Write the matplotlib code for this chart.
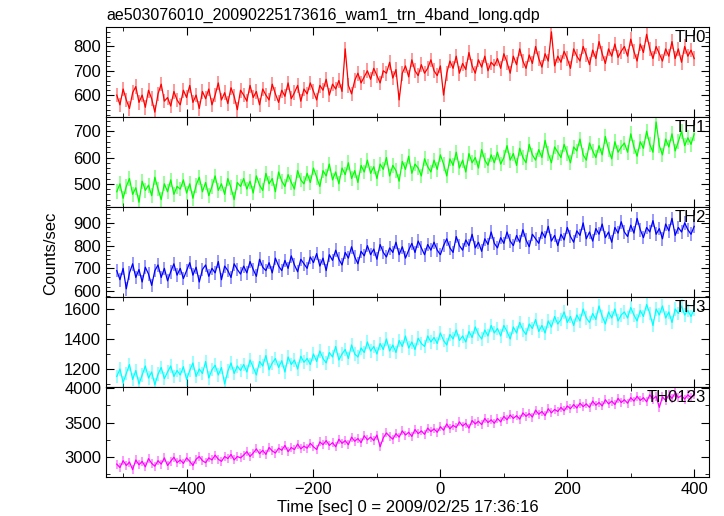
import numpy as np
import matplotlib.pyplot as plt
from matplotlib.ticker import MultipleLocator

plt.rcParams['font.family'] = ['Liberation Sans', 'DejaVu Sans']

title = "ae503076010_20090225173616_wam1_trn_4band_long.qdp"
bands = ["TH0", "TH1", "TH2", "TH3", "TH0123"]
colors = ["#ff0000", "#00ff00", "#0000ff", "#00ffff", "#ff00ff"]

# time bins [sec], 5 s spacing
time = np.arange(-510, 401, 5)

th0 = [600, 560, 625, 580, 545, 610, 635, 570, 600, 550, 620, 585, 530, 605, 645, 575, 590, 555, 615, 580,
       560, 620, 590, 640, 570, 600, 545, 615, 585, 625, 560, 600, 650, 580, 610, 565, 630, 595, 540, 620,
       600, 575, 640, 590, 615, 560, 625, 600, 580, 645, 605, 570, 620, 595, 650, 585, 610, 640, 575, 625,
       605, 650, 615, 580, 640, 620, 665, 600, 645, 625, 660, 615, 790, 640, 605, 660, 690, 650, 675, 700,
       665, 710, 680, 650, 700, 690, 735, 670, 705, 580, 690, 720, 675, 745, 700, 680, 725, 690, 710, 745,
       700, 680, 720, 600, 690, 740, 710, 760, 690, 730, 705, 775, 720, 690, 745, 715, 760, 700, 735, 720,
       750, 710, 770, 735, 690, 760, 725, 790, 740, 710, 765, 730, 800, 750, 715, 770, 740, 860, 720, 760,
       735, 780, 750, 710, 790, 760, 740, 800, 765, 725, 785, 750, 820, 770, 730, 790, 760, 810, 755, 780,
       800, 760, 830, 780, 740, 810, 775, 850, 790, 750, 800, 770, 740, 790, 760, 820, 750, 790, 735, 800,
       760, 785, 750]
th1 = [470, 500, 445, 490, 520, 460, 485, 430, 510, 475, 495, 455, 525, 480, 440, 500, 470, 515, 460, 490,
       480, 515, 465, 500, 445, 495, 525, 470, 505, 455, 490, 530, 475, 500, 460, 520, 485, 440, 505, 490,
       520, 480, 510, 465, 530, 495, 475, 540, 500, 520, 470, 545, 510, 490, 535, 505, 480, 550, 515, 500,
       540, 505, 560, 525, 490, 550, 530, 575, 515, 545, 500, 560, 535, 580, 520, 550, 505, 570, 545, 590,
       540, 565, 520, 575, 555, 600, 530, 570, 550, 510, 585, 555, 605, 540, 575, 560, 530, 595, 565, 545,
       590, 555, 610, 575, 530, 595, 570, 620, 560, 590, 545, 615, 580, 600, 560, 630, 590, 570, 610, 580,
       620, 575, 600, 645, 590, 615, 570, 635, 600, 580, 650, 610, 590, 630, 600, 665, 615, 580, 640, 620,
       600, 650, 615, 580, 640, 625, 670, 610, 590, 655, 625, 600, 645, 610, 680, 630, 595, 660, 620, 640,
       655, 620, 690, 640, 605, 660, 635, 700, 650, 620, 735, 645, 610, 670, 640, 690, 625, 660, 700, 645,
       675, 650, 690]
th2 = [690, 650, 700, 610, 680, 720, 660, 695, 640, 705, 675, 625, 690, 715, 660, 700, 645, 685, 720, 670,
       700, 655, 690, 725, 670, 705, 640, 695, 715, 665, 700, 680, 730, 650, 710, 690, 660, 720, 695, 675,
       710, 680, 730, 695, 665, 740, 705, 690, 725, 680, 745, 710, 690, 735, 700, 755, 715, 685, 740, 720,
       700, 750, 725, 765, 710, 745, 690, 760, 735, 780, 740, 715, 770, 745, 795, 750, 720, 775, 755, 800,
       760, 785, 740, 805, 770, 750, 790, 770, 815, 760, 795, 745, 780, 810, 770, 820, 790, 760, 805, 780,
       815, 780, 760, 800, 830, 790, 770, 840, 800, 780, 825, 800, 850, 790, 815, 775, 830, 805, 860, 810,
       790, 835, 810, 860, 820, 800, 845, 815, 870, 825, 795, 850, 830, 810, 860, 835, 885, 820, 845, 800,
       850, 825, 880, 840, 815, 865, 845, 900, 830, 860, 820, 875, 850, 895, 835, 860, 815, 880, 855, 905,
       860, 840, 890, 855, 920, 870, 835, 880, 860, 910, 850, 875, 830, 895, 865, 920, 845, 880, 860, 900,
       870, 850, 885]
th3 = [1150, 1200, 1110, 1170, 1230, 1130, 1190, 1100, 1160, 1220, 1140, 1180, 1095, 1165, 1210, 1135, 1180, 1220, 1150, 1190,
       1160, 1215, 1130, 1190, 1240, 1150, 1200, 1170, 1250, 1140, 1195, 1225, 1160, 1210, 1100, 1185, 1240, 1170, 1220, 1190,
       1230, 1180, 1260, 1210, 1160, 1250, 1220, 1290, 1195, 1240, 1270, 1210, 1255, 1180, 1280, 1230, 1260, 1200, 1285, 1245,
       1270, 1230, 1300, 1250, 1320, 1270, 1240, 1310, 1280, 1350, 1260, 1300, 1330, 1270, 1360, 1300, 1280, 1340, 1310, 1380,
       1320, 1350, 1300, 1370, 1330, 1400, 1320, 1360, 1310, 1390, 1350, 1420, 1340, 1380, 1330, 1405, 1370, 1350, 1420, 1380,
       1410, 1370, 1440, 1390, 1360, 1430, 1400, 1460, 1390, 1420, 1380, 1450, 1410, 1480, 1430, 1400, 1460, 1420, 1490, 1440,
       1470, 1420, 1490, 1450, 1400, 1480, 1440, 1510, 1460, 1430, 1500, 1470, 1530, 1450, 1490, 1440, 1520, 1480, 1550, 1500,
       1530, 1580, 1510, 1550, 1490, 1560, 1520, 1600, 1540, 1510, 1570, 1530, 1620, 1550, 1500, 1580, 1540, 1600, 1520, 1560,
       1580, 1540, 1610, 1560, 1520, 1590, 1550, 1630, 1570, 1490, 1600, 1560, 1620, 1540, 1580, 1510, 1600, 1570, 1620, 1560,
       1590, 1550, 1600]
th0123 = [2900, 2850, 2950, 2880, 2930, 2820, 2960, 2890, 2940, 2860, 2980, 2910, 2870, 2950, 2900, 2990, 2880, 2940, 3000, 2920,
          2960, 2910, 2990, 2940, 2880, 2970, 3010, 2950, 2920, 2990, 2960, 3030, 2970, 2940, 3010, 2980, 3040, 2960, 3010, 2990,
          3030, 3080, 3010, 3060, 3120, 3050, 3100, 3040, 3140, 3090, 3060, 3130, 3100, 3170, 3080, 3140, 3110, 3190, 3120, 3160,
          3130, 3200, 3150, 3110, 3220, 3180, 3240, 3170, 3210, 3150, 3260, 3200, 3240, 3180, 3290, 3230, 3270, 3210, 3310, 3250,
          3290, 3240, 3320, 3150, 3280, 3350, 3300, 3260, 3340, 3290, 3380, 3320, 3360, 3300, 3400, 3340, 3380, 3330, 3420, 3370,
          3410, 3360, 3440, 3390, 3480, 3410, 3460, 3430, 3510, 3450, 3490, 3420, 3530, 3480, 3520, 3470, 3560, 3500, 3540, 3490,
          3560, 3510, 3590, 3540, 3610, 3560, 3600, 3550, 3640, 3590, 3630, 3580, 3680, 3620, 3660, 3600, 3700, 3640, 3690, 3660,
          3720, 3670, 3740, 3700, 3760, 3710, 3780, 3730, 3770, 3720, 3810, 3750, 3790, 3740, 3830, 3770, 3810, 3760, 3850, 3790,
          3830, 3780, 3860, 3810, 3880, 3820, 3860, 3800, 3900, 3840, 3880, 3720, 3870, 3820, 3900, 3850, 3930, 3860, 3890, 3840,
          3900, 3860, 3910]
series = [th0, th1, th2, th3, th0123]
errors = [30, 28, 30, 45, 65]

ylims = [(510, 880), (412, 754), (574, 970), (1080, 1680), (2714, 4014)]
ymajor = [100, 100, 100, 200, 500]
yminor = [20, 20, 20, 100, 250]

fig, axes = plt.subplots(5, 1, sharex=True, figsize=(7.24, 5.16), dpi=100)
fig.subplots_adjust(left=0.1464, right=0.979, bottom=0.0756, top=0.9477, hspace=0)

for ax, name, col, y, err, yl, mj, mn in zip(axes, bands, colors, series, errors,
                                             ylims, ymajor, yminor):
    ax.errorbar(time, y, yerr=err, fmt='none', ecolor=col, elinewidth=1.4, alpha=0.4)
    ax.plot(time, y, color=col, lw=0.9)
    ax.set_ylim(*yl)
    ax.set_xlim(-527, 423)
    ax.yaxis.set_major_locator(MultipleLocator(mj))
    ax.yaxis.set_minor_locator(MultipleLocator(mn))
    ax.xaxis.set_major_locator(MultipleLocator(200))
    ax.xaxis.set_minor_locator(MultipleLocator(100))
    ax.tick_params(which='both', direction='in', top=True, right=True, labelsize=12)
    ax.tick_params(which='major', length=6)
    ax.tick_params(which='minor', length=3)
    ax.text(0.995, 0.97, name, transform=ax.transAxes, ha='right', va='top', fontsize=12)

axes[0].set_title(title, loc='left', fontsize=11.5, pad=5)
axes[-1].set_xlabel("Time [sec] 0 = 2009/02/25 17:36:16", fontsize=12, labelpad=2)
fig.text(0.07, 0.51, "Counts/sec", rotation=90, ha='center', va='center', fontsize=12)

plt.savefig("out.png", dpi=100)
